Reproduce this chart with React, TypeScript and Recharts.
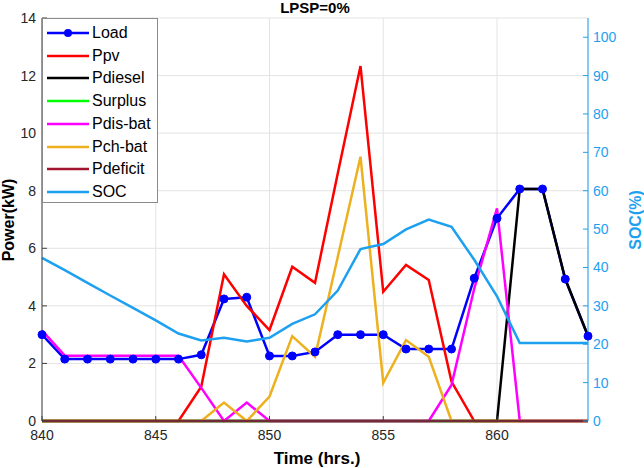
import React from 'react';
import { ComposedChart, Line, XAxis, YAxis, CartesianGrid, Legend } from 'recharts';

const hours = [840, 841, 842, 843, 844, 845, 846, 847, 848, 849, 850, 851, 852, 853, 854, 855, 856, 857, 858, 859, 860, 861, 862, 863, 864];
const loadKW = [3.0, 2.15, 2.15, 2.15, 2.15, 2.15, 2.15, 2.3, 4.24, 4.3, 2.26, 2.26, 2.4, 3.0, 3.0, 3.0, 2.5, 2.5, 2.5, 4.96, 7.04, 8.06, 8.06, 4.93, 2.95];
const ppvKW = [0, 0, 0, 0, 0, 0, 0, 1.19, 5.1, 4.0, 3.16, 5.36, 4.8, 8.6, 12.33, 4.49, 5.42, 4.9, 1.37, 0, 0, 0, 0, 0, 0];
const pdieselKW = [0, 0, 0, 0, 0, 0, 0, 0, 0, 0, 0, 0, 0, 0, 0, 0, 0, 0, 0, 0, 0, 8.06, 8.06, 4.93, 2.95];
const surplusKW = [0, 0, 0, 0, 0, 0, 0, 0, 0, 0, 0, 0, 0, 0, 0, 0, 0, 0, 0, 0, 0, 0, 0, 0, 0];
const pdisBatKW = [3.15, 2.27, 2.27, 2.27, 2.27, 2.27, 2.27, 1.15, 0, 0.64, 0, 0, 0, 0, 0, 0, 0, 0, 1.25, 4.6, 7.39, 0, 0, 0, 0];
const pchBatKW = [0, 0, 0, 0, 0, 0, 0, 0, 0.64, 0, 0.85, 2.95, 2.23, 5.7, 9.18, 1.33, 2.81, 2.23, 0, 0, 0, 0, 0, 0, 0];
const pdeficitKW = [0, 0, 0, 0, 0, 0, 0, 0, 0, 0, 0, 0, 0, 0, 0, 0, 0, 0, 0, 0, 0, 0, 0, 0, 0];
const socPct = [42.5, 39.3, 36.0, 32.7, 29.5, 26.2, 22.8, 21.0, 21.7, 20.7, 21.7, 25.3, 27.8, 34.0, 44.8, 46.1, 49.9, 52.5, 50.6, 42, 32.5, 20.3, 20.3, 20.3, 20.3];

const xTicks = [840, 845, 850, 855, 860];
const powerTicks = [0, 2, 4, 6, 8, 10, 12, 14];
const socTicks = [0, 10, 20, 30, 40, 50, 60, 70, 80, 90, 100];

const titleText = 'LPSP=0%';
const xLabel = 'Time (hrs.)';
const yLeftLabel = 'Power(kW)';
const yRightLabel = 'SOC(%)';

const SOC_COLOR = '#1EA0F0';
const FONT = '"Liberation Sans", Arial, Helvetica, sans-serif';
const AXIS_COLOR = '#404040';

const series = [
  { key: 'load', name: 'Load', color: '#0000FF', axis: 'left', marker: true },
  { key: 'ppv', name: 'Ppv', color: '#FF0000', axis: 'left', marker: false },
  { key: 'pdiesel', name: 'Pdiesel', color: '#000000', axis: 'left', marker: false },
  { key: 'surplus', name: 'Surplus', color: '#00FF00', axis: 'left', marker: false },
  { key: 'pdis', name: 'Pdis-bat', color: '#FF00FF', axis: 'left', marker: false },
  { key: 'pch', name: 'Pch-bat', color: '#EDB120', axis: 'left', marker: false },
  { key: 'pdef', name: 'Pdeficit', color: '#A2142F', axis: 'left', marker: false },
  { key: 'soc', name: 'SOC', color: SOC_COLOR, axis: 'right', marker: false },
];

const data = hours.map((t, i) => ({
  t,
  load: loadKW[i],
  ppv: ppvKW[i],
  pdiesel: pdieselKW[i],
  surplus: surplusKW[i],
  pdis: pdisBatKW[i],
  pch: pchBatKW[i],
  pdef: pdeficitKW[i],
  soc: socPct[i],
}));

const BottomTick = (props: any) => {
  const { x, y, payload } = props;
  return (
    <g>
      <line x1={x} x2={x} y1={y} y2={y - 5} stroke={AXIS_COLOR} strokeWidth={1} />
      <text x={x} y={y + 19} textAnchor="middle" fontSize={14} fill="#262626" fontFamily={FONT}>
        {payload.value}
      </text>
    </g>
  );
};

const TopTick = (props: any) => {
  const { x, y } = props;
  return <line x1={x} x2={x} y1={y} y2={y + 5} stroke={AXIS_COLOR} strokeWidth={1} />;
};

const LeftTick = (props: any) => {
  const { x, y, payload } = props;
  return (
    <g>
      <line x1={x} x2={x + 5} y1={y} y2={y} stroke={AXIS_COLOR} strokeWidth={1} />
      <text x={x - 6} y={y} dy={5} textAnchor="end" fontSize={14} fill="#262626" fontFamily={FONT}>
        {payload.value}
      </text>
    </g>
  );
};

const RightTick = (props: any) => {
  const { x, y, payload } = props;
  return (
    <g>
      <line x1={x} x2={x - 5} y1={y} y2={y} stroke={SOC_COLOR} strokeWidth={1} />
      <text x={x + 5} y={y} dy={5} textAnchor="start" fontSize={14} fill={SOC_COLOR} fontFamily={FONT}>
        {payload.value}
      </text>
    </g>
  );
};

const LegendBox = () => (
  <div
    style={{
      position: 'relative',
      width: 116,
      height: 185,
      background: '#fff',
      border: '1px solid #8a8a8a',
      boxSizing: 'border-box',
      fontFamily: FONT,
    }}
  >
    {series.map((s, i) => {
      const cy = 14 + 22.7 * i;
      return (
        <div key={s.key} style={{ position: 'absolute', left: 0, top: cy - 11, height: 22, width: 116 }}>
          <svg width={48} height={22} style={{ position: 'absolute', left: 0, top: 0 }}>
            <line x1={4} x2={46} y1={11} y2={11} stroke={s.color} strokeWidth={2.5} />
            {s.marker ? <circle cx={25} cy={11} r={4} fill={s.color} /> : null}
          </svg>
          <span
            style={{
              position: 'absolute',
              left: 49,
              top: 0,
              lineHeight: '22px',
              fontSize: 16,
              color: '#000',
              whiteSpace: 'nowrap',
            }}
          >
            {s.name}
          </span>
        </div>
      );
    })}
  </div>
);

export default function App() {
  return (
    <div style={{ position: 'absolute', left: 0, top: 0, width: 644, height: 468, background: '#fff' }}>
      <ComposedChart width={644} height={468} data={data} margin={{ top: 18, right: 0, bottom: 0, left: 0 }}>
        <CartesianGrid yAxisId="left" stroke="#E3E3E3" strokeWidth={1} />
        <XAxis
          dataKey="t"
          type="number"
          domain={[840, 864]}
          ticks={xTicks}
          interval={0}
          height={47}
          tickSize={0}
          tickMargin={0}
          tick={<BottomTick />}
          tickLine={false}
          axisLine={{ stroke: AXIS_COLOR }}
        />
        <XAxis
          xAxisId="top"
          dataKey="t"
          type="number"
          orientation="top"
          domain={[840, 864]}
          ticks={xTicks}
          interval={0}
          height={0}
          tickSize={0}
          tickMargin={0}
          tick={<TopTick />}
          tickLine={false}
          axisLine={{ stroke: AXIS_COLOR }}
        />
        <YAxis
          yAxisId="left"
          domain={[0, 14]}
          ticks={powerTicks}
          interval={0}
          width={42}
          tickSize={0}
          tickMargin={0}
          tick={<LeftTick />}
          tickLine={false}
          axisLine={{ stroke: AXIS_COLOR }}
        />
        <YAxis
          yAxisId="right"
          orientation="right"
          domain={[0, 105]}
          ticks={socTicks}
          interval={0}
          width={56}
          tickSize={0}
          tickMargin={0}
          tick={<RightTick />}
          tickLine={false}
          axisLine={{ stroke: SOC_COLOR }}
        />
        {series.map((s) => (
          <Line
            key={s.key}
            yAxisId={s.axis}
            dataKey={s.key}
            name={s.name}
            type="linear"
            stroke={s.color}
            strokeWidth={2.5}
            dot={s.marker ? { r: 4, fill: s.color, stroke: s.color, strokeWidth: 1 } : false}
            activeDot={false}
            isAnimationActive={false}
          />
        ))}
        <Legend
          layout="vertical"
          align="center"
          verticalAlign="middle"
          content={() => <LegendBox />}
          wrapperStyle={{ position: 'absolute', left: 42, top: 18, width: 116, height: 185 }}
        />
      </ComposedChart>
      <svg
        width={644}
        height={468}
        style={{ position: 'absolute', left: 0, top: 0, pointerEvents: 'none' }}
      >
        <text x={315} y={13} textAnchor="middle" fontSize={15} fontWeight="bold" fill="#000" fontFamily={FONT}>
          {titleText}
        </text>
        <text x={317} y={464} textAnchor="middle" fontSize={17} fontWeight="bold" fill="#000" fontFamily={FONT}>
          {xLabel}
        </text>
        <text
          transform="translate(14,220) rotate(-90)"
          textAnchor="middle"
          fontSize={16}
          fontWeight="bold"
          fill="#000"
          fontFamily={FONT}
        >
          {yLeftLabel}
        </text>
        <text
          transform="translate(641,220) rotate(-90)"
          textAnchor="middle"
          fontSize={16}
          fontWeight="bold"
          fill={SOC_COLOR}
          fontFamily={FONT}
        >
          {yRightLabel}
        </text>
      </svg>
    </div>
  );
}
